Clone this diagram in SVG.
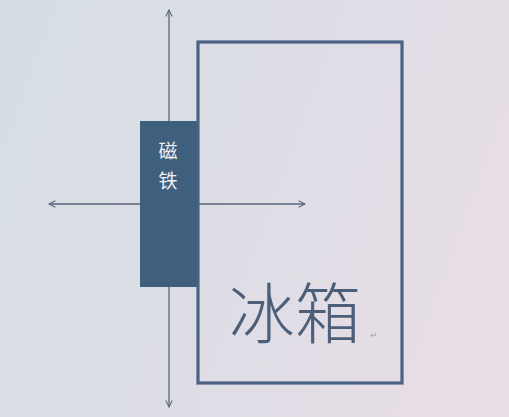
<svg xmlns="http://www.w3.org/2000/svg" width="509" height="417" viewBox="0 0 509 417">
<defs>
<linearGradient id="bg" x1="0" y1="0" x2="1" y2="0.3">
<stop offset="0" stop-color="#d5dee3"/>
<stop offset="0.5" stop-color="#dcdde5"/>
<stop offset="1" stop-color="#e6dde6"/>
</linearGradient>
<marker id="arr" viewBox="0 0 10 10" refX="9" refY="5" markerWidth="8" markerHeight="8" orient="auto" markerUnits="userSpaceOnUse">
<path d="M1,1 L9,5 L1,9" fill="none" stroke="#5a6478" stroke-width="1.3"/>
</marker>
<style>
.ax{stroke:#5a6478;stroke-width:1.3;fill:none;marker-end:url(#arr)}
.lbl{font-family:"Noto Sans CJK SC",sans-serif;fill:#eef2f5;font-size:19px;text-anchor:middle}
.big{font-family:"Noto Sans CJK SC",sans-serif;font-weight:300;fill:#4d5e78;font-size:66px}
</style>
</defs>
<rect width="509" height="417" fill="url(#bg)"/>
<g id="connectors">
<line class="ax" x1="169" y1="204" x2="169" y2="10"/>
<line class="ax" x1="169" y1="204" x2="169" y2="407"/>
<line class="ax" x1="169" y1="204" x2="49" y2="204"/>
<line class="ax" x1="169" y1="204" x2="305" y2="204"/>
</g>
<g id="fridge">
<rect x="198" y="42" width="204" height="341" fill="none" stroke="#4a6284" stroke-width="3.2"/>
<text class="big" x="229" y="338">冰箱</text>
<text x="370" y="338" font-family="DejaVu Sans, sans-serif" font-size="9" fill="#a8aab8">↵</text>
</g>
<g id="magnet">
<rect x="140" y="121" width="57" height="166" fill="#3e5f7e"/>
<text class="lbl" x="168" y="158">磁</text>
<text class="lbl" x="168" y="188">铁</text>
</g>
</svg>
